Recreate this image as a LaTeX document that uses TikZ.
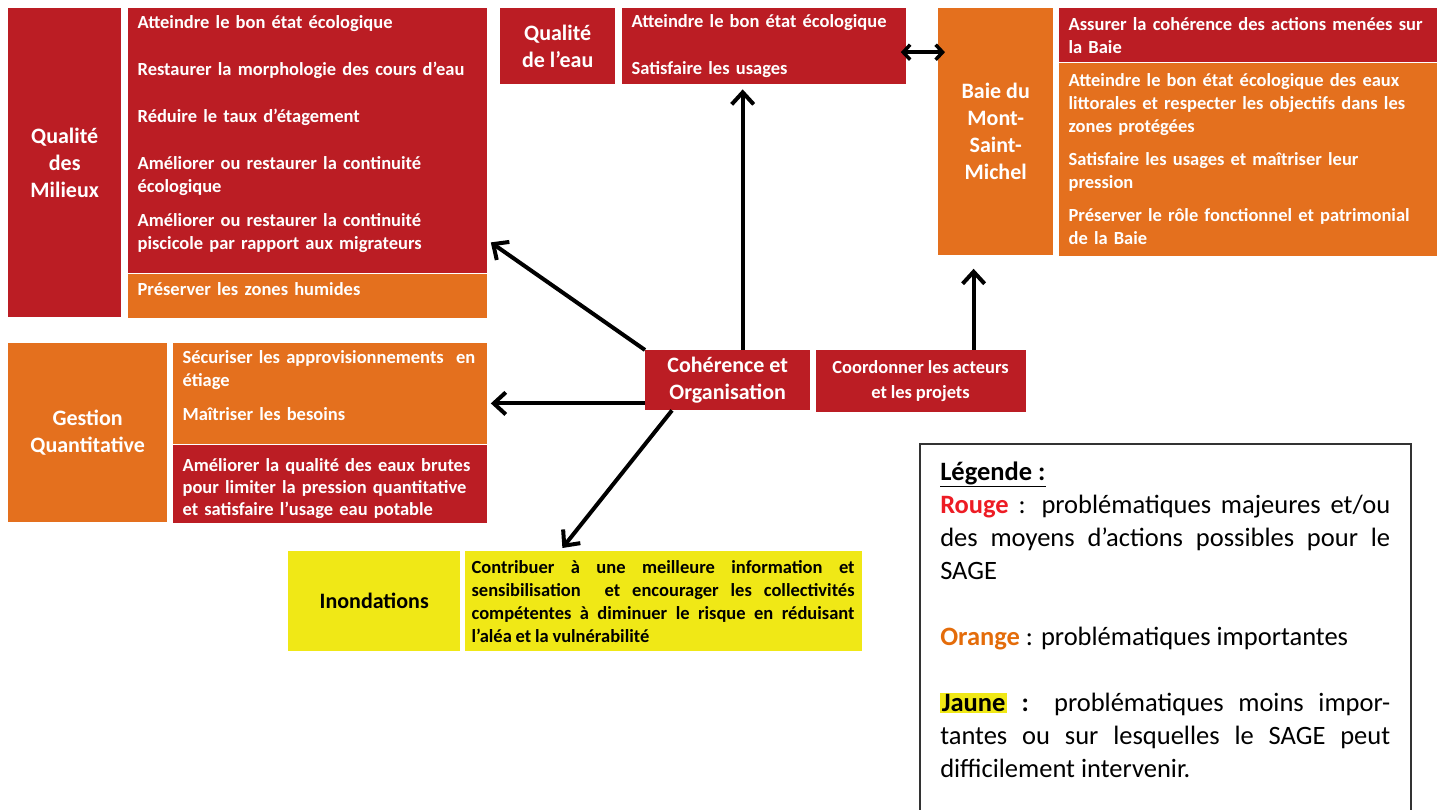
\documentclass[tikz,border=0pt]{standalone}
\usepackage{fontspec}
\setmainfont{Carlito}
\newfontfamily\boxfont{Carlito}[WordSpace=0.9]
\usetikzlibrary{arrows.meta,positioning}
\definecolor{sagered}{RGB}{187,29,36}
\definecolor{sageorange}{RGB}{228,112,30}
\definecolor{sageyellow}{RGB}{240,232,22}
\definecolor{legred}{RGB}{237,28,36}
\definecolor{legorange}{RGB}{228,108,10}
\tolerance=9999

\begin{document}
\begin{tikzpicture}[
  x=1pt, y=-1pt,
  topic/.style={rectangle, fill=#1, text=white, align=center, inner sep=0pt,
                font=\fontsize{22pt}{27pt}\selectfont\bfseries},
  goals/.style={rectangle, fill=#1, text=white, align=left, inner xsep=10pt,
                inner ysep=0pt, font=\boxfont\fontsize{18.5pt}{23pt}\selectfont\bfseries},
  legendbox/.style={rectangle, draw=black!80, line width=1.5pt, align=justify,
                    text width=450pt, inner xsep=20.5pt, inner ysep=18pt,
                    text depth=360pt, font=\fontsize{26.5pt}{33pt}\selectfont},
  arr/.style={-{Straight Barb[length=12pt,width=22pt]}, line width=4pt, black},
  arrboth/.style={{Straight Barb[length=7pt,width=15pt]}-{Straight Barb[length=7pt,width=15pt]},
                  line width=3.5pt, black}
]
\useasboundingbox (0,0) rectangle (1444,810);

% Qualite des milieux
\node[topic=sagered, minimum width=113pt, minimum height=309pt, anchor=north west]
  (milieux) at (8,8) {Qualité\\des\\Milieux};
\node[goals=sagered, text width=339pt, minimum height=265pt, text depth=237pt,
      right=6pt of milieux.north east, anchor=north west] (milieuxA)
  {Atteindre le bon état écologique\\[24pt]
   Restaurer la morphologie  des cours d’eau\\[24pt]
   Réduire le taux d’étagement\\[24pt]
   Améliorer ou restaurer la continuité\\écologique\\[11pt]
   Améliorer ou restaurer la continuité\\piscicole par rapport aux migrateurs};
\node[goals=sageorange, text width=339pt, minimum height=44pt, text depth=14pt,
      below=0pt of milieuxA] (milieuxB) {Préserver les zones humides};

% Qualite de l'eau
\node[topic=sagered, minimum width=115pt, minimum height=76pt, anchor=north west]
  (eau) at (500,8) {Qualité\\de l’eau};
\node[goals=sagered, text width=264pt, minimum height=76pt,
      right=6pt of eau.north east, anchor=north west] (eauA)
  {Atteindre le bon état écologique\\[24pt]Satisfaire les usages};

% Baie du Mont-Saint-Michel
\node[topic=sageorange, minimum width=115pt, minimum height=247pt, anchor=north west]
  (baie) at (938,8) {Baie du\\Mont-\\Saint-\\Michel};
\node[goals=sagered, text width=358pt, minimum height=54pt,
      right=5pt of baie.north east, anchor=north west] (baieA)
  {Assurer la cohérence des actions menées sur\\la Baie};
\node[goals=sageorange, text width=358pt, minimum height=193pt, below=0pt of baieA]
  (baieB)
  {Atteindre le bon état écologique des eaux\\
   littorales et respecter les objectifs dans les\\zones protégées\\[10pt]
   Satisfaire les usages et maîtriser leur\\pression\\[10pt]
   Préserver le rôle fonctionnel et patrimonial\\de la Baie};

% Gestion quantitative
\node[topic=sageorange, minimum width=159pt, minimum height=179pt, anchor=north west]
  (gestion) at (8,343) {Gestion\\Quantitative};
\node[goals=sageorange, text width=294pt, minimum height=101pt, text depth=73pt,
      right=5pt of gestion.north east, anchor=north west] (gestionA)
  {Sécuriser les approvisionnements \ en\\étiage\\[11pt]Maîtriser les besoins};
\node[goals=sagered, text width=294pt, minimum height=78pt, text height=23pt,
      below=0pt of gestionA] (gestionB)
  {Améliorer la qualité des eaux brutes\\[-1pt]pour limiter la pression quantitative\\[-1pt]
   et satisfaire l’usage eau potable};

% Coherence et organisation
\node[topic=sagered, minimum width=165pt, minimum height=60pt, anchor=north west]
  (coh) at (645,350) {Cohérence et\\Organisation};
\node[topic=sagered, minimum width=210pt, minimum height=62pt,
      font=\boxfont\fontsize{18.5pt}{25pt}\selectfont\bfseries,
      right=5pt of coh.north east, anchor=north west] (coord)
  {Coordonner les acteurs\\et les projets};

% Inondations
\node[topic=sageyellow, text=black, minimum width=172pt, minimum height=100pt,
      anchor=north west] (ino) at (288,551) {Inondations};
\node[goals=sageyellow, text=black, text width=383pt, inner xsep=7pt,
      minimum height=100pt, align=justify,
      right=4pt of ino.north east, anchor=north west] (inoA)
  {Contribuer à une meilleure information et\linebreak
   sensibilisation\ \ et encourager les collectivités\linebreak
   compétentes à diminuer le risque en réduisant\linebreak
   l’aléa et la vulnérabilité};

% Legende
\node[legendbox, anchor=north west] (leg) at (919,443)
  {\underline{\textbf{Légende :}}\\
   \textbf{\color{legred}Rouge} : problématiques majeures et/ou\linebreak
   des moyens d’actions possibles pour le\linebreak SAGE\\[33pt]
   \textbf{\color{legorange}Orange} : problématiques importantes\\[33pt]
   {\fboxsep=1.5pt\colorbox{sageyellow}{\textbf{Jaune}}}\textbf{ :} problématiques moins impor-\linebreak
   tantes ou sur lesquelles le SAGE peut\linebreak difficilement intervenir.};

% arrows
\coordinate (up) at ([xshift=15pt]coh.north);
\coordinate (left) at ([yshift=7pt]coh.south west);
\coordinate (upb) at ([xshift=53pt]coord.north);
\coordinate (link) at ([yshift=-6pt]eauA.east);
\draw[arr, shorten >=5pt] (up) -- (up |- eauA.south);
\draw[arr] (coh.north west) -- ([shift={(4,-31)}]milieuxA.south east);
\draw[arr, shorten >=4pt] (left) -- (left -| gestionA.east);
\draw[arr] ([xshift=27pt]coh.south west) -- ([shift={(98,-3)}]inoA.north west);
\draw[arr, shorten >=13pt] (upb) -- (upb |- baieB.south);
\draw[arrboth, shorten <=-5pt, shorten >=-7pt] (link) -- (link -| baie.west);
\end{tikzpicture}
\end{document}
